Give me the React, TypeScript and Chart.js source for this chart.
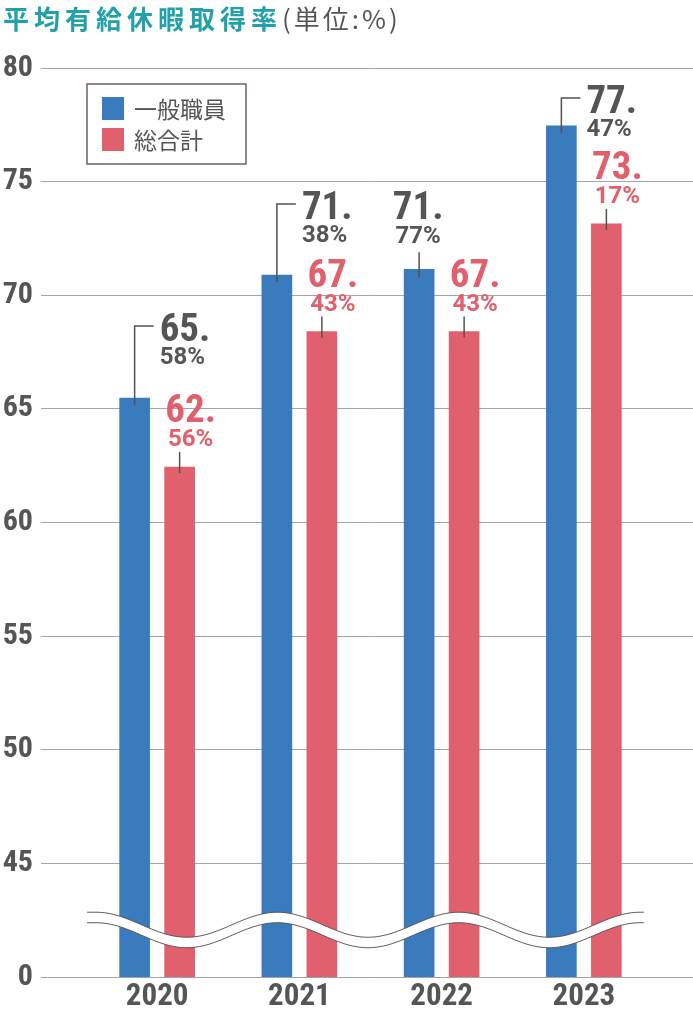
import React, { useEffect, useRef } from 'react';
import { Chart, registerables } from 'chart.js';

Chart.register(...registerables);

// ---------- data ----------
const years = ['2020', '2021', '2022', '2023'];
// bar heights as drawn in the chart
const staffBars = [65.48, 70.89, 71.14, 77.45]; // 一般職員
const totalBars = [62.44, 68.4, 68.4, 73.14]; // 総合計
// printed value labels
const staffLabels = ['65.58', '71.38', '71.77', '77.47'];
const totalLabels = ['62.56', '67.43', '67.43', '73.17'];
const seriesNames = ['一般職員', '総合計'];
const axisMin = 40; // broken axis: lowest gridline stands for 0
const axisMax = 80;
const axisStep = 5;
const axisFloorLabel = '0';
const titleMain = '平均有給休暇取得率';
const titleUnit = '(単位:%)';

// ---------- styles ----------
const BLUE = '#3a7bbd';
const RED = '#e0606d';
const TEXT = '#555555';
const TEAL = '#22a1a9';
const GRID = '#a3a5ab';
const LEADER = '#56504e';
const COND_FONT = "'Roboto Condensed', 'Liberation Sans Narrow', Roboto, sans-serif";
const NUM_FONT = "Roboto, 'Liberation Sans', sans-serif";
const CJK_FONT = "'Noto Sans CJK JP', 'Noto Sans', sans-serif";

type Place = { mode: 'elbow'; rise: number } | { mode: 'above'; dx: number; lift: number };
const labelPlaces: Place[][] = [
  [
    { mode: 'elbow', rise: 72 },
    { mode: 'elbow', rise: 71 },
    { mode: 'above', dx: -1, lift: 5 },
    { mode: 'elbow', rise: 28 },
  ],
  [
    { mode: 'above', dx: 11, lift: 0 },
    { mode: 'above', dx: 11, lift: 0 },
    { mode: 'above', dx: 11, lift: 0 },
    { mode: 'above', dx: 11, lift: 0 },
  ],
];
const labelTexts = [staffLabels, totalLabels];
const labelColors = [TEXT, RED];

const splitLabel = (s: string) => {
  const [i, d] = s.split('.');
  return [i + '.', d + '%'];
};

function hasCondensedFont(): boolean {
  const c = document.createElement('canvas').getContext('2d')!;
  c.font = "bold 100px 'Roboto Condensed', monospace";
  const a = c.measureText('0123456789').width;
  c.font = 'bold 100px monospace';
  const b = c.measureText('0123456789').width;
  return Math.abs(a - b) > 1;
}

let condensedScale = 1;

const breakPlugin = {
  id: 'axisBreak',
  afterDatasetsDraw(chart: any) {
    const { ctx } = chart;
    const xs = chart.scales.x;
    const ys = chart.scales.y;
    const x0 = xs.getPixelForValue(0) - 70;
    const x1 = xs.getPixelForValue(years.length - 1) + 60;
    const p0 = x0 + 9;
    const p1 = x1 - 4;
    const P = (p1 - p0) / 3;
    const base = ys.getPixelForValue(42.85);
    const A = 12.5;
    const gap = 10.5;
    const top = (x: number) => {
      if (x <= p0 || x >= p1) return base;
      return base + A * (1 - Math.cos((2 * Math.PI * (x - p0)) / P));
    };
    const pts: number[] = [];
    for (let x = x0; x <= x1; x += 1) pts.push(x);
    if (pts[pts.length - 1] !== x1) pts.push(x1);
    ctx.save();
    ctx.beginPath();
    pts.forEach((x, i) => (i ? ctx.lineTo(x, top(x)) : ctx.moveTo(x, top(x))));
    for (let i = pts.length - 1; i >= 0; i--) ctx.lineTo(pts[i], top(pts[i]) + gap);
    ctx.closePath();
    ctx.fillStyle = '#ffffff';
    ctx.fill();
    ctx.strokeStyle = LEADER;
    ctx.lineWidth = 1;
    for (const off of [0, gap]) {
      ctx.beginPath();
      pts.forEach((x, i) => (i ? ctx.lineTo(x, top(x) + off) : ctx.moveTo(x, top(x) + off)));
      ctx.stroke();
    }
    ctx.restore();
  },
};

function drawCondensed(ctx: CanvasRenderingContext2D, text: string, x: number, y: number, align: 'left' | 'center') {
  ctx.save();
  ctx.translate(x, y);
  ctx.scale(condensedScale, 1);
  ctx.textAlign = align;
  ctx.fillText(text, 0, 0);
  ctx.restore();
}

const labelPlugin = {
  id: 'valueLabels',
  afterDatasetsDraw(chart: any) {
    const { ctx } = chart;
    ctx.save();
    chart.data.datasets.forEach((ds: any, di: number) => {
      const meta = chart.getDatasetMeta(di);
      meta.data.forEach((bar: any, i: number) => {
        const place = labelPlaces[di][i];
        const [big, small] = splitLabel(labelTexts[di][i]);
        const x = bar.x;
        const t = bar.y;
        ctx.strokeStyle = LEADER;
        ctx.lineWidth = 1.5;
        ctx.fillStyle = labelColors[di];
        ctx.textBaseline = 'alphabetic';
        const bigFont = `bold 39px ${COND_FONT}`;
        const smallFont = `bold 24px ${NUM_FONT}`;
        if (place.mode === 'elbow') {
          const ey = t - place.rise;
          ctx.beginPath();
          ctx.moveTo(x, t + 7);
          ctx.lineTo(x, ey);
          ctx.lineTo(x + 19, ey);
          ctx.stroke();
          ctx.font = bigFont;
          drawCondensed(ctx, big, x + 25, ey + 15, 'left');
          ctx.font = smallFont;
          ctx.textAlign = 'left';
          ctx.fillText(small, x + 25, ey + 38);
        } else {
          const lift = place.lift;
          ctx.beginPath();
          ctx.moveTo(x, t + 6 + lift * 0.4);
          ctx.lineTo(x, t - 15 - lift * 0.4);
          ctx.stroke();
          ctx.font = bigFont;
          drawCondensed(ctx, big, x + place.dx, t - 45 - lift, 'center');
          ctx.font = smallFont;
          ctx.textAlign = 'center';
          ctx.fillText(small, x + place.dx, t - 21 - lift);
        }
      });
    });
    ctx.restore();
  },
};

const legendPlugin = {
  id: 'boxLegend',
  afterDraw(chart: any) {
    const { ctx, chartArea } = chart;
    const left = chartArea.left + 1;
    const top = chartArea.top + 16;
    const w = 159;
    const h = 80;
    ctx.save();
    ctx.fillStyle = '#ffffff';
    ctx.fillRect(left, top, w, h);
    ctx.strokeStyle = '#6d6260';
    ctx.lineWidth = 1.5;
    ctx.strokeRect(left, top, w, h);
    chart.data.datasets.forEach((ds: any, i: number) => {
      const sy = top + 13 + i * 31;
      ctx.fillStyle = ds.backgroundColor;
      ctx.fillRect(left + 15, sy, 22, 23);
      ctx.fillStyle = TEXT;
      ctx.font = `23px ${CJK_FONT}`;
      ctx.textAlign = 'left';
      ctx.textBaseline = 'middle';
      ctx.fillText(ds.label, left + 47, sy + 12);
    });
    ctx.restore();
  },
};

export default function App() {
  const ref = useRef<HTMLCanvasElement>(null);
  useEffect(() => {
    document.body.style.margin = '0';
    const cond = hasCondensedFont();
    condensedScale = cond ? 1 : 0.84;
    const canvas = ref.current!;
    const xTickFont = cond
      ? { family: COND_FONT, size: 31, weight: 'bold' as const }
      : { family: NUM_FONT, size: 28, weight: 'bold' as const };
    const yTickFont = cond
      ? { family: COND_FONT, size: 30, weight: 'bold' as const }
      : { family: NUM_FONT, size: 28, weight: 'bold' as const };
    const chart = new Chart(canvas, {
      type: 'bar',
      data: {
        labels: years,
        datasets: [
          { label: seriesNames[0], data: staffBars, backgroundColor: BLUE, barThickness: 45, maxBarThickness: 30 },
          { label: seriesNames[1], data: totalBars, backgroundColor: RED, barThickness: 45, maxBarThickness: 30 },
        ],
      },
      options: {
        responsive: false,
        animation: false,
        devicePixelRatio: 1,
        layout: { padding: { top: 68, left: 0, right: 0, bottom: 0 } },
        plugins: { legend: { display: false }, tooltip: { enabled: false }, title: { display: false } },
        scales: {
          x: {
            grid: { display: false, drawTicks: false },
            border: { display: false },
            ticks: { padding: 2, color: TEXT, font: xTickFont },
            afterFit: (s: any) => {
              s.height = 32;
            },
          },
          y: {
            position: 'left',
            min: axisMin,
            max: axisMax,
            ticks: {
              stepSize: axisStep,
              padding: 8,
              color: TEXT,
              font: yTickFont,
              callback: (v: any) => (v === axisMin ? axisFloorLabel : String(v)),
            },
            grid: { color: GRID, lineWidth: 1, tickLength: 45, drawTicks: true, tickColor: GRID },
            border: { display: false },
            afterFit: (s: any) => {
              s.width = 86;
            },
          },
          yEdge: {
            position: 'right',
            display: true,
            min: axisMin,
            max: axisMax,
            ticks: { stepSize: axisStep, display: false },
            grid: { color: GRID, lineWidth: 1, drawOnChartArea: false, tickLength: 38, tickColor: GRID },
            border: { display: false },
            afterFit: (s: any) => {
              s.width = 38;
            },
          },
        },
      } as any,
      plugins: [breakPlugin, labelPlugin, legendPlugin],
    });
    return () => chart.destroy();
  }, []);

  return (
    <div style={{ position: 'relative', width: 693, height: 1009 }}>
      <canvas ref={ref} width={693} height={1009} style={{ display: 'block' }} />
      <div
        style={{
          position: 'absolute',
          left: 3,
          top: 4,
          fontFamily: CJK_FONT,
          fontSize: 26,
          lineHeight: '28px',
          whiteSpace: 'nowrap',
        }}
      >
        <span style={{ color: TEAL, fontWeight: 700, letterSpacing: 5 }}>{titleMain}</span>
        <span style={{ color: TEXT, fontWeight: 400, letterSpacing: 3 }}>{titleUnit}</span>
      </div>
    </div>
  );
}
